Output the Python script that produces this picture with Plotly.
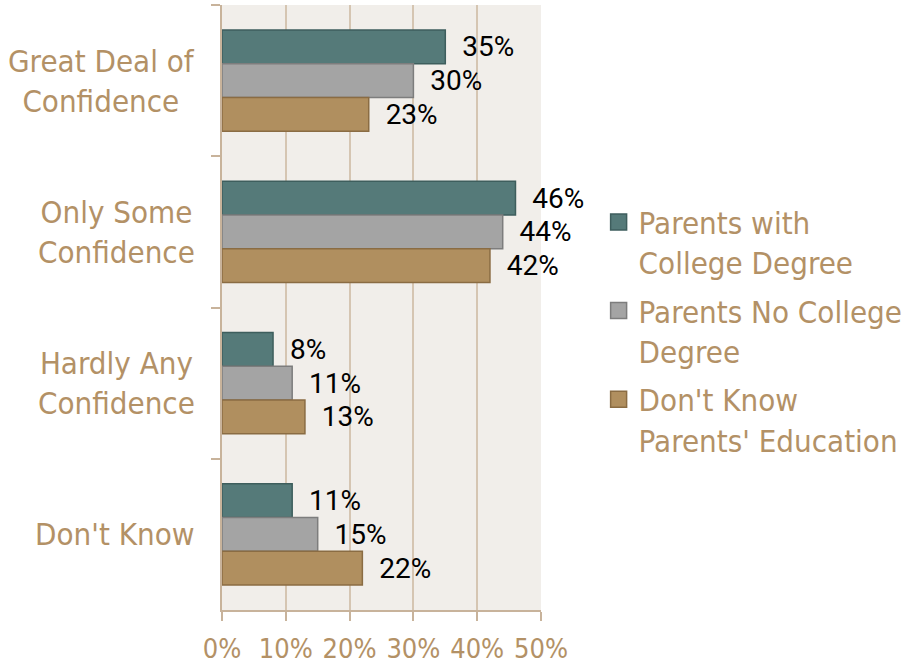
import plotly.graph_objects as go

categories = ["Great Deal of<br>Confidence", "Only Some<br>Confidence",
              "Hardly Any<br>Confidence", "Don't Know"]
series_names = ["Parents with<br>College Degree", "Parents No College<br>Degree",
                "Don't Know<br>Parents' Education"]
college = [35, 46, 8, 11]
no_college = [30, 44, 11, 15]
dont_know = [23, 42, 13, 22]
x_ticks = [0, 10, 20, 30, 40, 50]
x_tick_labels = ["0%", "10%", "20%", "30%", "40%", "50%"]

fills = ["#557a79", "#a4a4a4", "#b08f5f"]
edges = ["#3e5e5d", "#7d7d7d", "#8a6c43"]
TAN = "#b39166"
GRID = "#d5c5b2"
AXIS = "#c8b39b"
PAD = "\u00a0\u00a0"
TFONT = "DejaVu Sans Condensed, DejaVu Sans"

fig = go.Figure()
for name, vals, fc, ec in zip(series_names, [college, no_college, dont_know], fills, edges):
    fig.add_trace(go.Bar(
        y=categories, x=vals, orientation="h", name=name, showlegend=False,
        marker=dict(color=fc, line=dict(color=ec, width=1.5)),
        text=[f"{PAD}{v}%" for v in vals], textposition="outside",
        textfont=dict(family="Roboto", size=28, color="black"),
        cliponaxis=False, hoverinfo="skip",
    ))
for i, (name, fc, ec) in enumerate(zip(series_names, fills, edges)):
    fig.add_trace(go.Scatter(
        x=[None], y=[None], mode="markers", name=name, legendgroup=f"g{i}",
        marker=dict(symbol="square", size=16, color=fc, line=dict(color=ec, width=1.5)),
    ))

for c in categories:
    fig.add_annotation(x=0, xref="paper", y=c, yref="y", text=c, showarrow=False,
                       xanchor="right", xshift=-25, align="center",
                       font=dict(family=TFONT, size=31, color=TAN))

fig.update_layout(
    width=907, height=669,
    margin=dict(l=222, r=366, t=5, b=57),
    plot_bgcolor="#f1eeea", paper_bgcolor="white",
    barmode="group", bargap=0.33, bargroupgap=0,
    showlegend=True,
    legend=dict(xref="container", yref="container", x=0.66, y=0.708,
                xanchor="left", yanchor="top", traceorder="grouped",
                valign="top", tracegroupgap=5, itemwidth=30,
                font=dict(family=TFONT, size=31, color=TAN),
                bgcolor="rgba(0,0,0,0)"),
    font=dict(family=TFONT, size=30, color=TAN),
)
fig.update_xaxes(range=[0, 50], tickvals=x_ticks, ticktext=x_tick_labels,
                 showgrid=True, gridcolor=GRID, gridwidth=2, zeroline=False,
                 showline=True, linecolor=AXIS, linewidth=2,
                 ticks="outside", ticklen=9, tickcolor=AXIS, tickwidth=2,
                 ticklabelstandoff=5,
                 tickfont=dict(family=TFONT, size=27, color=TAN))
fig.update_yaxes(autorange="reversed", showticklabels=False, showgrid=False,
                 showline=True, linecolor=AXIS, linewidth=2,
                 ticks="outside", tickson="boundaries", ticklen=9,
                 tickcolor=AXIS, tickwidth=2)

fig.write_html("out.html", config={"displayModeBar": False},
               post_script="document.body.style.margin='0';")
